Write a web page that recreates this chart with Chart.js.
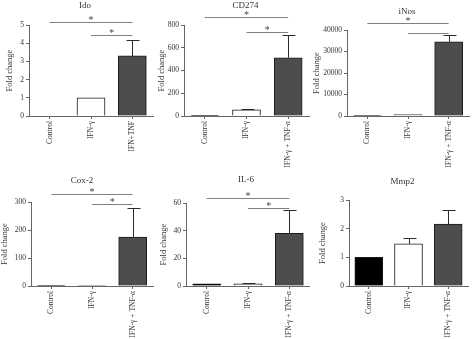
<!DOCTYPE html>
<html><head><meta charset="utf-8">
<script src="https://cdn.jsdelivr.net/npm/chart.js@4.4.1/dist/chart.umd.min.js"></script>
<style>
html,body{margin:0;padding:0;background:#fff;}
#wrap{position:relative;width:474px;height:339px;overflow:hidden;background:#fff;}
canvas{position:absolute;}
</style></head><body><div id="wrap"></div>
<script>
// ---------- DATA ----------
const titles = ['Ido','CD274','iNos','Cox-2','IL-6','Mmp2'];
const categoriesShort = ['Control','IFN-\u03b3','IFN+TNF'];
const categoriesLong = ['Control','IFN-\u03b3','IFN-\u03b3 + TNF-\u03b1'];
const barColors = ['#000000','#ffffff','#4d4d4d'];

const idoValues   = [0, 1, 3.3];
const idoErrors   = [null, null, 4.2];
const cd274Values = [3, 55, 512];
const cd274Errors = [null, 60, 710];
const inosValues  = [200, 700, 34500];
const inosErrors  = [null, null, 37500];
const cox2Values  = [2, 2, 175];
const cox2Errors  = [null, null, 280];
const il6Values   = [1.5, 1.5, 38];
const il6Errors   = [null, 2, 55];
const mmp2Values  = [1.0, 1.47, 2.16];
const mmp2Errors  = [null, 1.66, 2.65];

const yMax  = [5, 800, 40000, 300, 60, 3];
const yStep = [1, 200, 10000, 100, 20, 1];
// significance comparisons [from category, to category, show star]
const sigIdo   = [[0,2,true],[1,2,true]];
const sigCd274 = [[0,2,true],[1,2,true]];
const sigInos  = [[0,2,true],[1,2,false]];
const sigCox2  = [[0,2,true],[1,2,true]];
const sigIl6   = [[0,2,true],[1,2,true]];
const sigMmp2  = [];

// ---------- LAYOUT / STYLE ----------
const SERIF = '"Liberation Serif","DejaVu Serif",serif';
const panels = [
  {canvas:[0,0,155,170],   plot:[29,25,153,116],  titleY:6,   titleDx:-6, yTitleX:10,  sigOff:[-3,10], cats:categoriesShort, values:idoValues,   errors:idoErrors,   sig:sigIdo},
  {canvas:[155,0,155,170], plot:[184,25,309,116], titleY:6,   titleDx:-1, yTitleX:162, sigOff:[-8,7],  cats:categoriesLong,  values:cd274Values, errors:cd274Errors, sig:sigCd274},
  {canvas:[310,0,164,170], plot:[347,30,469,116], titleY:12,  titleDx:-1, yTitleX:317, sigOff:[-7,3],  cats:categoriesLong,  values:inosValues,  errors:inosErrors,  sig:sigInos},
  {canvas:[0,170,155,169], plot:[31,202,153,286], titleY:181, titleDx:-10,yTitleX:5,   sigOff:[-8,2],  cats:categoriesLong,  values:cox2Values,  errors:cox2Errors,  sig:sigCox2},
  {canvas:[155,170,155,169],plot:[186,203,311,286],titleY:180,titleDx:-2, yTitleX:164, sigOff:[-5,5],  cats:categoriesLong,  values:il6Values,   errors:il6Errors,   sig:sigIl6},
  {canvas:[310,170,164,169],plot:[349,200,468,286],titleY:182,titleDx:-6, yTitleX:323, sigOff:[0,0],   cats:categoriesLong,  values:mmp2Values,  errors:mmp2Errors,  sig:sigMmp2}
];

const decor = {
  id:'decor',
  afterDatasetsDraw(chart){
    const p = chart.options.plugins.decor;
    const {ctx, chartArea:a, scales:{x,y}} = chart;
    const ox = p.canvas[0], oy = p.canvas[1];
    ctx.save();
    // error bars (upper only)
    ctx.strokeStyle = '#2a2a2a'; ctx.lineWidth = 1;
    p.errors.forEach((e,i)=>{
      if (e == null) return;
      const cx = Math.round(x.getPixelForValue(i)) + 0.5;
      const y0 = y.getPixelForValue(p.values[i]);
      const y1 = Math.round(y.getPixelForValue(e)) + 0.5;
      ctx.beginPath();
      ctx.moveTo(cx, y0); ctx.lineTo(cx, y1);
      ctx.moveTo(cx-6, y1); ctx.lineTo(cx+7, y1);
      ctx.stroke();
    });
    // significance brackets
    ctx.strokeStyle = '#808080';
    ctx.fillStyle = '#444';
    ctx.font = '10px ' + SERIF;
    ctx.textAlign = 'center';
    ctx.textBaseline = 'alphabetic';
    p.sig.forEach((s,k)=>{
      const ly = Math.round(a.top + p.sigOff[k]) + 0.5;
      const x0 = x.getPixelForValue(s[0]), x1 = x.getPixelForValue(s[1]);
      ctx.beginPath(); ctx.moveTo(x0, ly); ctx.lineTo(x1, ly); ctx.stroke();
      if (s[2]) ctx.fillText('*', (x0+x1)/2, ly + 0.5);
    });
    // panel title
    ctx.fillStyle = '#333';
    ctx.font = '9px ' + SERIF;
    ctx.textBaseline = 'middle';
    ctx.fillText(p.title, (a.left + a.right)/2 + p.titleDx, p.titleY - oy);
    // y axis title
    ctx.translate(p.yTitleX - ox, (a.top + a.bottom)/2);
    ctx.rotate(-Math.PI/2);
    ctx.font = '8.5px ' + SERIF;
    ctx.fillText('Fold change', 0, 0);
    ctx.restore();
  }
};

const wrap = document.getElementById('wrap');
panels.forEach((pn, idx)=>{
  const [cx, cy, cw, ch] = pn.canvas;
  const [l, t, r, b] = pn.plot;
  const cv = document.createElement('canvas');
  cv.width = cw; cv.height = ch;
  cv.style.left = cx + 'px'; cv.style.top = cy + 'px';
  cv.style.width = cw + 'px'; cv.style.height = ch + 'px';
  wrap.appendChild(cv);
  const yW = l - cx, xH = cy + ch - b;
  new Chart(cv, {
    type:'bar',
    data:{
      labels: pn.cats,
      datasets:[{
        data: pn.values,
        backgroundColor: barColors,
        borderColor: '#1a1a1a',
        borderWidth: 1,
        borderSkipped: 'bottom',
        barThickness: 28
      }]
    },
    options:{
      responsive:false, animation:false, devicePixelRatio:1,
      layout:{padding:{left:0, top:t - cy, right:cx + cw - r, bottom:0}},
      plugins:{
        legend:{display:false}, tooltip:{enabled:false}, title:{display:false},
        decor:{title:titles[idx], titleY:pn.titleY, titleDx:pn.titleDx, yTitleX:pn.yTitleX,
               canvas:pn.canvas, values:pn.values, errors:pn.errors, sig:pn.sig, sigOff:pn.sigOff}
      },
      scales:{
        x:{
          offset:true,
          grid:{display:true, drawOnChartArea:false, offset:false, tickLength:3, color:'#666'},
          border:{display:true, color:'#666', width:1},
          ticks:{minRotation:90, maxRotation:90, autoSkip:false, padding:2, color:'#333',
                 font:{family:SERIF, size:7.5}},
          afterFit(s){ s.height = xH; s.paddingLeft = 0; s.paddingRight = 0; }
        },
        y:{
          min:0, max:yMax[idx],
          grid:{display:true, drawOnChartArea:false, tickLength:3, color:'#666'},
          border:{display:true, color:'#666', width:1},
          ticks:{stepSize:yStep[idx], padding:2, color:'#333', font:{family:SERIF, size:7.5},
                 callback:(v)=>String(v)},
          afterFit(s){ s.width = yW; s.paddingTop = 0; s.paddingBottom = 0; }
        }
      }
    },
    plugins:[decor]
  });
});
</script>
</body></html>
